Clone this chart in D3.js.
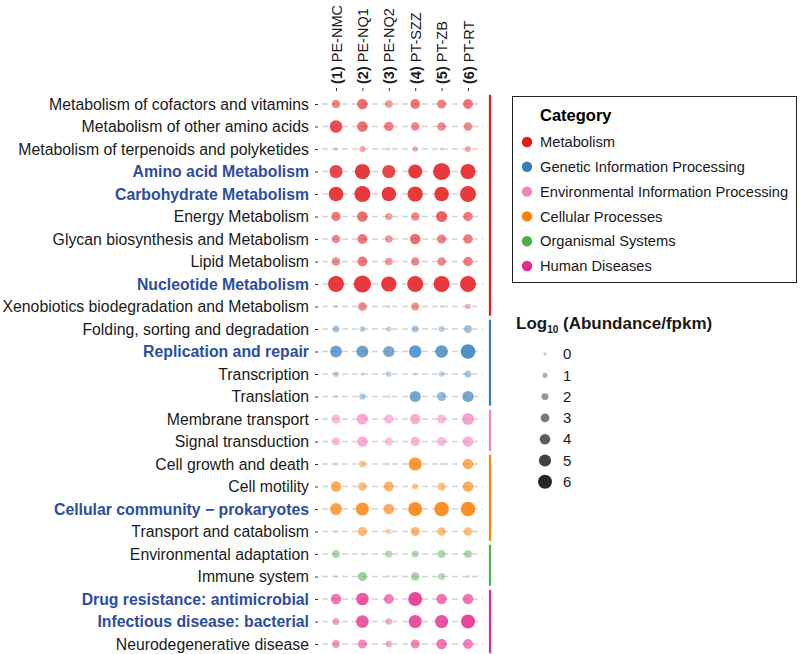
<!DOCTYPE html>
<html>
<head>
<meta charset="utf-8">
<script src="https://cdn.jsdelivr.net/npm/d3@7"></script>
<style>
  body { margin: 0; background: #fff; }
  svg { font-family: "Liberation Sans", Arial, sans-serif; }
</style>
</head>
<body>
<svg id="chart" width="800" height="654"></svg>
<script>
  // pathways (top to bottom) and the category each belongs to
  const pathways = [
    "Metabolism of cofactors and vitamins", "Metabolism of other amino acids",
    "Metabolism of terpenoids and polyketides", "Amino acid Metabolism",
    "Carbohydrate Metabolism", "Energy Metabolism",
    "Glycan biosynthesis and Metabolism", "Lipid Metabolism",
    "Nucleotide Metabolism", "Xenobiotics biodegradation and Metabolism",
    "Folding, sorting and degradation", "Replication and repair",
    "Transcription", "Translation",
    "Membrane transport", "Signal transduction",
    "Cell growth and death", "Cell motility",
    "Cellular community \u2212 prokaryotes", "Transport and catabolism",
    "Environmental adaptation", "Immune system",
    "Drug resistance: antimicrobial", "Infectious disease: bacterial",
    "Neurodegenerative disease"
  ];
  const pathwayCategory = [
    "Metabolism", "Metabolism", "Metabolism", "Metabolism", "Metabolism",
    "Metabolism", "Metabolism", "Metabolism", "Metabolism", "Metabolism",
    "Genetic Information Processing", "Genetic Information Processing",
    "Genetic Information Processing", "Genetic Information Processing",
    "Environmental Information Processing", "Environmental Information Processing",
    "Cellular Processes", "Cellular Processes", "Cellular Processes", "Cellular Processes",
    "Organismal Systems", "Organismal Systems",
    "Human Diseases", "Human Diseases", "Human Diseases"
  ];
  const highlighted = [
    "Amino acid Metabolism", "Carbohydrate Metabolism", "Nucleotide Metabolism",
    "Replication and repair", "Cellular community \u2212 prokaryotes",
    "Drug resistance: antimicrobial", "Infectious disease: bacterial"
  ];
  const categories = [
    "Metabolism", "Genetic Information Processing", "Environmental Information Processing",
    "Cellular Processes", "Organismal Systems", "Human Diseases"
  ];
  const categoryColors = ["#e41a1c", "#377eb8", "#f781bf", "#ff7f00", "#4daf4a", "#e7298a"];

  const samples = ["PE-NMC", "PE-NQ1", "PE-NQ2", "PT-SZZ", "PT-ZB", "PT-RT"];

  // log10(abundance/fpkm), one array per sample, in pathway order
  const PE_NMC = [2.9, 5.2, 0.2, 5.5, 6.3, 3.4, 2.9, 2.9, 7.1, 0.1, 2.1, 4.8, 1.3, 0.0, 3.2, 2.9, 0.0, 4.0, 4.8, 0.0, 2.5, 0.0, 4.0, 2.1, 2.5];
  const PE_NQ1 = [4.0, 4.0, 1.6, 6.7, 7.1, 4.0, 3.6, 3.6, 7.8, 2.9, 1.4, 4.8, 0.2, 1.7, 4.4, 4.0, 2.1, 2.9, 5.5, 3.2, -0.5, 3.2, 5.2, 5.2, 3.2];
  const PE_NQ2 = [2.3, 3.4, 0.0, 5.5, 6.3, 2.1, 2.3, 2.3, 6.7, 0.0, 1.1, 4.4, 1.3, 0.0, 3.2, 2.5, 0.0, 3.6, 4.0, 1.3, 2.1, 0.0, 3.6, 1.7, 1.7];
  const PT_SZZ = [3.6, 2.9, 1.2, 6.0, 6.7, 2.9, 4.0, 2.9, 7.1, 2.5, 2.1, 5.2, 0.1, 4.4, 4.0, 3.4, 5.5, 1.7, 6.0, 3.2, 2.1, 2.9, 6.0, 5.5, 3.2];
  const PT_ZB  = [3.2, 2.9, 0.1, 7.8, 6.3, 4.4, 3.2, 2.9, 7.1, 0.0, 1.4, 5.2, 1.3, 3.2, 3.2, 3.2, 0.2, 2.5, 6.3, 2.9, 2.5, 2.1, 4.0, 5.5, 4.0];
  const PT_RT  = [3.6, 2.9, 1.5, 6.7, 7.1, 3.4, 3.4, 3.4, 7.1, 1.3, 2.5, 6.3, 2.1, 4.4, 4.8, 4.0, 4.0, 4.0, 6.3, 2.9, 2.5, 0.3, 4.0, 6.0, 3.6];
  const sampleValues = [PE_NMC, PE_NQ1, PE_NQ2, PT_SZZ, PT_ZB, PT_RT];

  const sizeBreaks = [0, 1, 2, 3, 4, 5, 6];

  const points = [];
  pathways.forEach((p, i) => {
    samples.forEach((s, j) => {
      points.push({ pathway: p, sample: s, value: sampleValues[j][i], category: pathwayCategory[i] });
    });
  });

  const x = d3.scalePoint().domain(samples).range([336, 468]);
  const y = d3.scalePoint().domain(pathways).range([104, 644]);
  const r = d3.scaleLinear().domain([0, 6]).range([1.7, 7.0]);
  const alpha = d3.scaleLinear().domain([0, 6]).range([0.2, 0.86]).clamp(true);
  const color = d3.scaleOrdinal().domain(categories).range(categoryColors);
  const radius = v => Math.max(0.9, r(v));

  const svg = d3.select("#chart");

  // dashed row guides
  svg.append("g")
    .selectAll("line")
    .data(pathways)
    .enter().append("line")
    .attr("x1", 322).attr("x2", 483)
    .attr("y1", d => y(d)).attr("y2", d => y(d))
    .attr("stroke", "#d4d4d4")
    .attr("stroke-width", 1.4)
    .attr("stroke-dasharray", "6,4");

  // left axis with pathway names
  const yAxis = svg.append("g")
    .attr("transform", "translate(318,0)")
    .call(d3.axisLeft(y).tickSize(3).tickPadding(6));
  yAxis.select(".domain").remove();
  yAxis.selectAll(".tick line").attr("stroke", "#333");
  yAxis.selectAll(".tick text")
    .attr("font-size", 15.8)
    .attr("font-family", "Liberation Sans, Arial, sans-serif")
    .attr("fill", d => highlighted.includes(d) ? "#2c4da3" : "#1a1a1a")
    .attr("font-weight", d => highlighted.includes(d) ? "bold" : "normal");

  // top axis with sample names
  const xAxis = svg.append("g")
    .attr("transform", "translate(0,91)")
    .call(d3.axisTop(x).tickSize(3));
  xAxis.select(".domain").remove();
  xAxis.selectAll(".tick line").attr("stroke", "#333");
  xAxis.selectAll(".tick text")
    .text(null)
    .attr("transform", "rotate(-90)")
    .attr("x", 7).attr("y", 0).attr("dy", "0.35em")
    .attr("text-anchor", "start")
    .attr("font-size", 14.5)
    .attr("font-family", "Liberation Sans, Arial, sans-serif")
    .attr("fill", "#1a1a1a")
    .each(function(d, i) {
      const t = d3.select(this);
      t.append("tspan").attr("font-weight", "bold").text("(" + (i + 1) + ")");
      t.append("tspan").text(" " + d);
    });

  // dots
  svg.append("g")
    .selectAll("circle")
    .data(points)
    .enter().append("circle")
    .attr("cx", d => x(d.sample))
    .attr("cy", d => y(d.pathway))
    .attr("r", d => radius(d.value))
    .attr("fill", d => color(d.category))
    .attr("fill-opacity", d => alpha(d.value));

  // category bars on the right
  const step = y.step();
  svg.append("g")
    .selectAll("line")
    .data(categories)
    .enter().append("line")
    .attr("x1", 490).attr("x2", 490)
    .attr("y1", c => y(pathways[pathwayCategory.indexOf(c)]) - step / 2 + 2)
    .attr("y2", c => y(pathways[pathwayCategory.lastIndexOf(c)]) + step / 2 - 2)
    .attr("stroke", c => color(c))
    .attr("stroke-width", 2.2);

  // category legend
  const catLegend = svg.append("g");
  catLegend.append("rect")
    .attr("x", 512.5).attr("y", 96.5)
    .attr("width", 284).attr("height", 186)
    .attr("fill", "none").attr("stroke", "#222").attr("stroke-width", 1);
  catLegend.append("text")
    .attr("x", 540).attr("y", 121)
    .attr("font-size", 16.5).attr("font-weight", "bold")
    .text("Category");
  const catItem = catLegend.selectAll(".cat")
    .data(categories)
    .enter().append("g")
    .attr("class", "cat")
    .attr("transform", (d, i) => `translate(527, ${142 + i * 24.8})`);
  catItem.append("circle").attr("r", 5.2).attr("fill", d => color(d));
  catItem.append("text")
    .attr("x", 13).attr("dy", "0.35em")
    .attr("font-size", 14.7).attr("fill", "#1a1a1a")
    .text(d => d);

  // size legend
  const sizeLegend = svg.append("g");
  const title = sizeLegend.append("text")
    .attr("x", 516).attr("y", 329)
    .attr("font-size", 17).attr("font-weight", "bold").attr("fill", "#1a1a1a");
  title.append("tspan").text("Log");
  title.append("tspan").attr("font-size", 10).attr("dy", 4).text("10");
  title.append("tspan").attr("dy", -4).text(" (Abundance/fpkm)");
  const sizeItem = sizeLegend.selectAll(".sz")
    .data(sizeBreaks)
    .enter().append("g")
    .attr("class", "sz")
    .attr("transform", (d, i) => `translate(545, ${354 + i * 21.3})`);
  sizeItem.append("circle")
    .attr("r", d => radius(d))
    .attr("fill", "#000")
    .attr("fill-opacity", d => alpha(d));
  sizeItem.append("text")
    .attr("x", 18).attr("dy", "0.35em")
    .attr("font-size", 15).attr("fill", "#1a1a1a")
    .text(d => d);
</script>
</body>
</html>
